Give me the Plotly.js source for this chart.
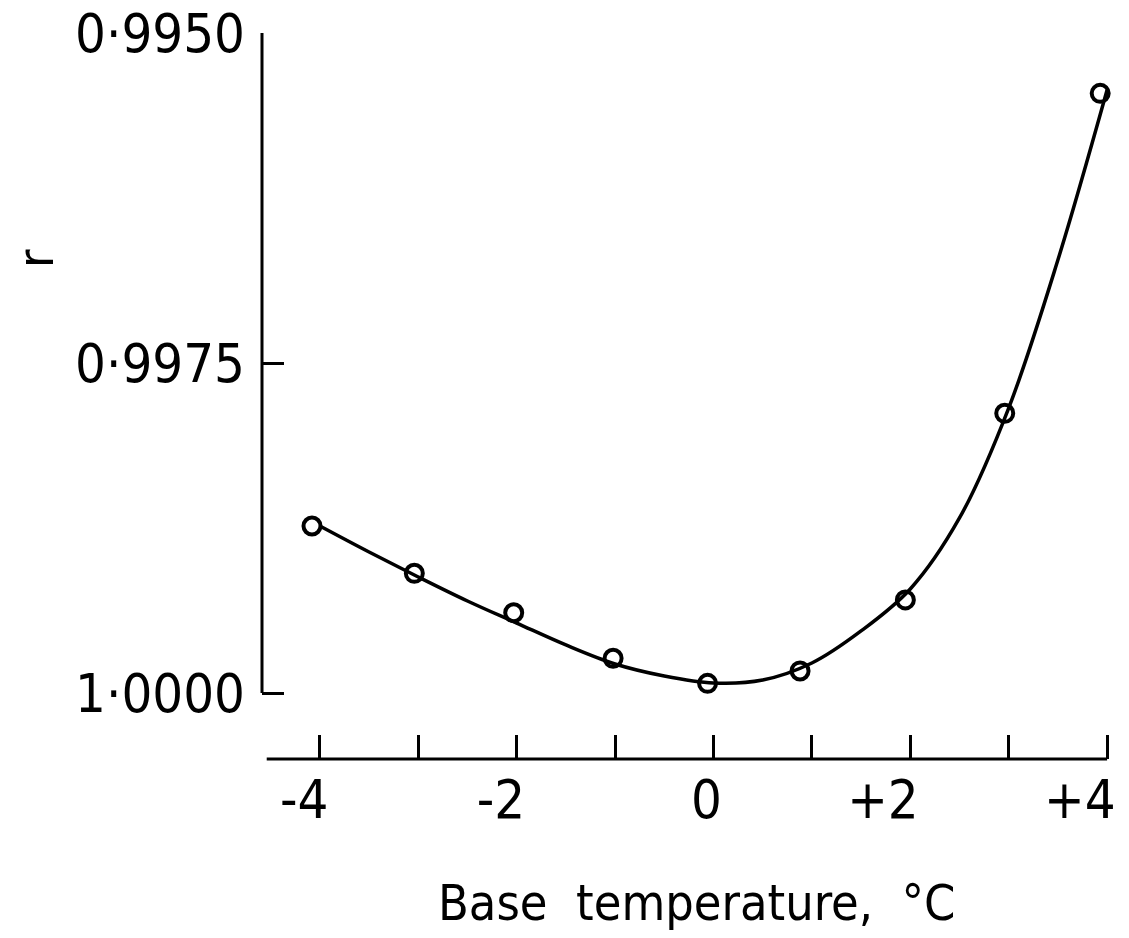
<!DOCTYPE html>
<html>
<head>
<meta charset="utf-8">
<script src="https://cdn.plot.ly/plotly-3.0.1.min.js"></script>
<style>html,body{margin:0;padding:0;background:#fff;}#chart{width:1129px;height:938px;}</style>
</head>
<body>
<div id="chart"></div>
<script>
// Measured points (base temperature, °C ; r)
const pointX = [-4.08, -3.04, -2.03, -1.02, -0.06, 0.88, 1.95, 2.96, 3.93];
const pointR = [0.998735, 0.999093, 0.999392, 0.999737, 0.999927, 0.999833, 0.999295, 0.997881, 0.995457];

// Fitted smooth curve
const curveX = [-4.0, -3.5, -3.0, -2.5, -2.0, -1.5, -1.0, -0.5, 0.0, 0.5, 1.0, 1.5, 2.0, 2.5, 3.0, 3.5, 4.0];
const curveR = [0.998735, 0.998932, 0.999121, 0.999303, 0.999470, 0.999636, 0.999780, 0.999871, 0.999924, 0.999902, 0.999773, 0.999530, 0.999212, 0.998674, 0.997841, 0.996720, 0.995432];

// Tick labels
const xTickVals = [-4, -3, -2, -1, 0, 1, 2, 3, 4];
const xTickText = ['-4', '', '-2', '', '0', '', '+2', '', '+4'];
const yTickVals = [0.995, 0.9975, 1.0];
const yTickText = ['0\u00b79950', '0\u00b79975', '1\u00b70000'];

const FONT = 'Liberation Sans Narrow, DejaVu Sans Condensed, Liberation Sans, sans-serif';

const traces = [
  {
    x: curveX, y: curveR, type: 'scatter', mode: 'lines',
    line: {color: '#000', width: 3.5, shape: 'spline', smoothing: 1.0},
    hoverinfo: 'skip', showlegend: false, cliponaxis: false
  },
  {
    x: pointX, y: pointR, type: 'scatter', mode: 'markers',
    marker: {symbol: 'circle-open', size: 17, color: '#000', line: {color: '#000', width: 4}},
    showlegend: false, cliponaxis: false
  }
];

const layout = {
  width: 1129, height: 938,
  paper_bgcolor: '#fff', plot_bgcolor: '#fff',
  margin: {l: 262, r: 17, t: 33, b: 179, pad: 0},
  showlegend: false,
  font: {family: FONT, color: '#000'},
  xaxis: {
    range: [-4.588, 4.05], showgrid: false, zeroline: false, showline: false,
    tickmode: 'array', tickvals: xTickVals, ticktext: xTickText,
    ticks: 'inside', ticklen: 24, tickwidth: 3, tickcolor: '#000',
    tickfont: {family: FONT, size: 54, color: '#000'},
    ticklabelposition: 'outside left', ticklabelshift: 10,
    ticklabelstandoff: 4
  },
  yaxis: {
    range: [1.0005, 0.995], showgrid: false, zeroline: false, showline: false,
    tickmode: 'array', tickvals: yTickVals, ticktext: yTickText,
    ticks: 'inside', ticklen: 22, tickwidth: 3, tickcolor: '#000',
    tickfont: {family: FONT, size: 54, color: '#000'},
    ticklabelstandoff: 16
  },
  shapes: [
    {type: 'line', xref: 'paper', yref: 'y', x0: 0, x1: 0, y0: 0.995, y1: 1.0,
     line: {color: '#000', width: 3}},
    {type: 'line', xref: 'x', yref: 'paper', x0: -4.54, x1: 4.0, y0: 0, y1: 0,
     line: {color: '#000', width: 3}}
  ],
  annotations: [
    {text: 'Base  temperature,  \u00b0C', xref: 'paper', yref: 'paper',
     x: 0.512, y: -0.198, xanchor: 'center', yanchor: 'middle', showarrow: false,
     font: {family: FONT, size: 50, color: '#000'}},
    {text: 'r', xref: 'paper', yref: 'paper', x: -0.266, y: 0.69,
     xanchor: 'center', yanchor: 'middle', showarrow: false, textangle: -90,
     font: {family: FONT, size: 50, color: '#000'}}
  ]
};

Plotly.newPlot('chart', traces, layout, {staticPlot: true, displayModeBar: false});
</script>
</body>
</html>
